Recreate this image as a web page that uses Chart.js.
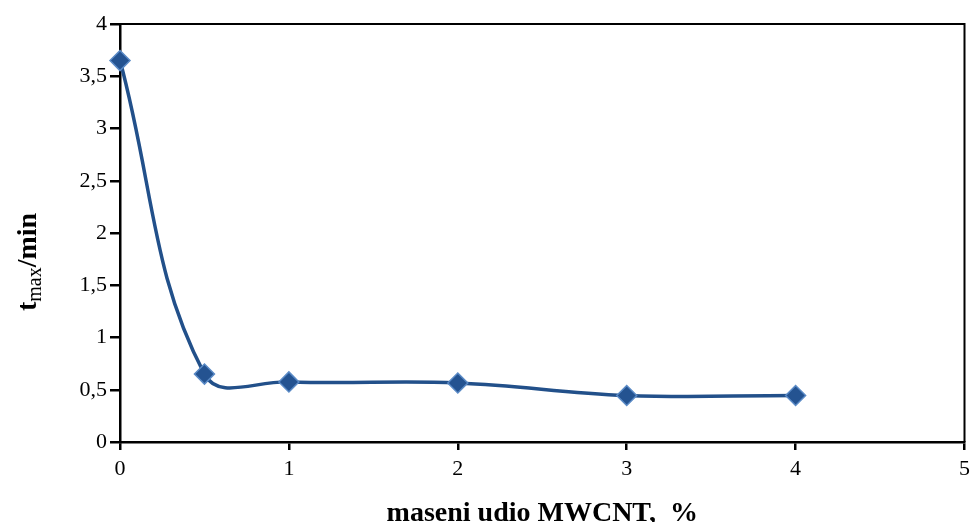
<!DOCTYPE html>
<html>
<head>
<meta charset="utf-8">
<script src="https://cdn.jsdelivr.net/npm/chart.js@4/dist/chart.umd.min.js"></script>
<style>
  body { margin: 0; background: #fff; }
</style>
</head>
<body>
<canvas id="chart" width="976" height="522"></canvas>
<script>
// data
const xValues = [0, 0.5, 1, 2, 3, 4];
const tMax = [3.65, 0.65, 0.575, 0.565, 0.445, 0.445];
const xTicks = [0, 1, 2, 3, 4, 5];
const yTicks = [0, 0.5, 1, 1.5, 2, 2.5, 3, 3.5, 4];

const SERIF = '"Liberation Serif", "Times New Roman", serif';

// frame + axis titles (subscript needs manual drawing)
const decor = {
    id: 'decor',
    afterDraw(chart) {
        const { ctx, chartArea: a } = chart;
        ctx.save();
        ctx.strokeStyle = '#000';
        ctx.lineWidth = 2;
        ctx.beginPath();
        ctx.moveTo(a.left, a.top);
        ctx.lineTo(a.right, a.top);
        ctx.lineTo(a.right, a.bottom);
        ctx.stroke();

        // x title
        ctx.fillStyle = '#000';
        ctx.font = 'bold 28px ' + SERIF;
        ctx.textAlign = 'center';
        ctx.textBaseline = 'alphabetic';
        ctx.fillText('maseni udio MWCNT,  %', (a.left + a.right) / 2, 521);

        // y title, rotated
        ctx.translate(36, 262);
        ctx.rotate(-Math.PI / 2);
        const big = 'bold 28px ' + SERIF;
        const small = '20px ' + SERIF;
        const parts = [['t', big, 0], ['max', small, 5], ['/min', big, 0]];
        let total = 0;
        parts.forEach(p => { ctx.font = p[1]; total += ctx.measureText(p[0]).width; });
        let x = -total / 2;
        ctx.textAlign = 'left';
        parts.forEach(p => {
            ctx.font = p[1];
            ctx.fillText(p[0], x, p[2]);
            x += ctx.measureText(p[0]).width;
        });
        ctx.restore();
    }
};

new Chart(document.getElementById('chart').getContext('2d'), {
    type: 'line',
    data: {
        datasets: [{
            data: xValues.map((x, i) => ({ x: x, y: tMax[i] })),
            borderColor: '#22508A',
            borderWidth: 3.5,
            tension: 0.4,
            clip: false,
            pointStyle: 'rectRot',
            pointRadius: 10,
            pointBackgroundColor: '#245391',
            pointBorderColor: '#5A8AC6',
            pointBorderWidth: 1.5
        }]
    },
    options: {
        responsive: false,
        animation: false,
        layout: { padding: { top: 24, right: 6, left: 0, bottom: 0 } },
        plugins: {
            legend: { display: false },
            tooltip: { enabled: false }
        },
        scales: {
            x: {
                type: 'linear',
                min: 0,
                max: 5,
                afterBuildTicks: s => { s.ticks = xTicks.map(v => ({ value: v })); },
                afterFit: s => { s.height = 80; s.paddingLeft = 0; s.paddingRight = 0; },
                grid: { drawOnChartArea: false, tickLength: 8, color: '#000', lineWidth: 2.5 },
                border: { color: '#000', width: 2.5 },
                ticks: {
                    color: '#000',
                    padding: 6,
                    font: { family: SERIF, size: 22 },
                    maxRotation: 0
                }
            },
            y: {
                min: 0,
                max: 4,
                afterBuildTicks: s => { s.ticks = yTicks.map(v => ({ value: v })); },
                afterFit: s => { s.width = 120; s.paddingTop = 0; s.paddingBottom = 0; },
                grid: { drawOnChartArea: false, tickLength: 10, color: '#000', lineWidth: 2.5 },
                border: { color: '#000', width: 2.5 },
                ticks: {
                    color: '#000',
                    padding: 3,
                    font: { family: SERIF, size: 22 },
                    callback: v => String(v).replace('.', ',')
                }
            }
        }
    },
    plugins: [decor]
});
</script>
</body>
</html>
